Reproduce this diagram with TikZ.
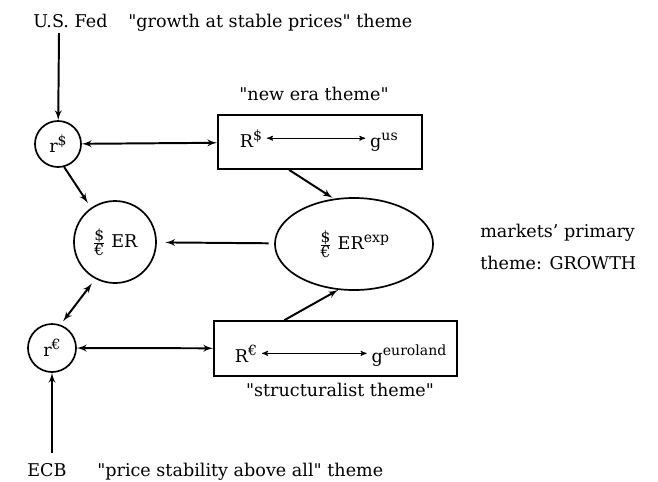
\documentclass[tikz,border=0pt]{standalone}
\usepackage{fontspec}
\setmainfont{DejaVu Serif}
\usepackage{tikz}
\usetikzlibrary{shapes,arrows}
\tikzstyle{circ} = [circle, draw, line width=1.2pt, inner sep=0pt]
\tikzstyle{oval} = [ellipse, draw, line width=1.2pt, inner sep=0pt, minimum width=3.95cm, minimum height=2.3cm]
\tikzstyle{block} = [rectangle, draw, line width=1.2pt, inner sep=0pt]
\tikzstyle{line} = [draw, line width=1.4pt, -latex']
\tikzstyle{dline} = [draw, line width=1.4pt, latex'-latex']
\tikzstyle{thin} = [draw, line width=0.6pt, stealth'-stealth']
\tikzstyle{lbl} = [anchor=base west, inner sep=0pt]
\newcommand{\sups}[1]{\raisebox{0.75ex}{\fontsize{10}{11}\selectfont #1}}
\newcommand{\doleur}{$\frac{\mbox{\fontsize{11}{12}\selectfont\$}}{\mbox{\fontsize{11}{12}\selectfont €}}$}
\newcommand{\q}{\textquotedbl}

\begin{document}
\begin{tikzpicture}[x=0.025cm, y=-0.025cm, font=\fontsize{12.5}{15}\selectfont]
    \useasboundingbox (0,0) rectangle (658,481);
    % policy makers and themes
    \node [lbl] (fed) at (33,27) {U.S. Fed};
    \node [lbl] (fedtheme) at (128,27) {\q growth at stable prices\q{} theme};
    \node [lbl] (ecb) at (27,476) {ECB};
    \node [lbl] (ecbtheme) at (97,476) {\q price stability above all\q{} theme};
    \coordinate (fedstart) at (59,33);
    \coordinate (ecbstart) at (52,453);

    % rates and exchange rate
    \node [circ, minimum size=1.15cm] (rdol) at (58,144) {r\sups{\$}};
    \node [circ, minimum size=2.05cm] (er) at (115,242) {\doleur\ ER};
    \node [circ, minimum size=1.2cm] (reur) at (52,348) {r\sups{€}};
    \node [oval] (erexp) at (354,244) {\doleur\ ER\sups{exp}};
    \node [anchor=west, inner sep=0pt, align=left, font=\fontsize{12.5}{22.5}\selectfont] (markets) at (480,247) {markets' primary\\theme: GROWTH};

    % the two theme boxes
    \node [block, minimum width=5.1cm, minimum height=1.35cm] (usbox) at (320,142) {};
    \node [anchor=base] (Rdol) at (251,147) {R\sups{\$}};
    \node [anchor=base] (gus) at (384,147) {g\sups{us}};
    \node [anchor=base] (newera) at (314,100) {\q new era theme\q};
    \node [block, minimum width=6.075cm, minimum height=1.375cm] (eubox) at (335.5,348.5) {};
    \node [anchor=base] (Reur) at (246,362) {R\sups{€}};
    \node [anchor=base] (geur) at (409,362) {g\sups{euroland}};
    \node [anchor=base] (struct) at (340,396) {\q structuralist theme\q};

    \path [line] (fedstart) -- (rdol);
    \path [line] (ecbstart) -- (reur);
    \path [dline] (rdol) -- (usbox);
    \path [dline] (reur) -- (eubox);
    \path [thin] (Rdol) -- (Rdol -| gus.west);
    \path [thin] (Reur) -- (Reur -| geur.west);
    \path [line, shorten >=4pt] (rdol.-75) -- (er.125);
    \path [dline, shorten <=3pt, shorten >=4pt] (reur.70) -- (er.-118);
    \path [line, shorten <=4pt, shorten >=6pt] (erexp) -- (er);
    \path [line, shorten >=1pt] (usbox.-138) -- (erexp.114);
    \path [line] (eubox.151) -- (erexp.251);
  \end{tikzpicture}
\end{document}
